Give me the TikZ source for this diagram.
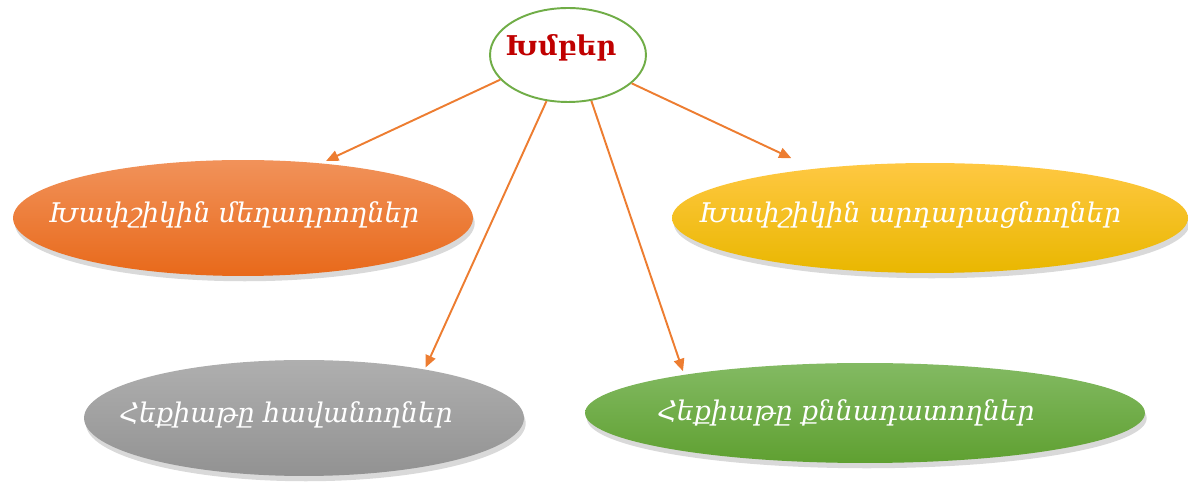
\documentclass[tikz,border=0pt]{standalone}
\usepackage{fontspec}
\setmainfont{DejaVu Serif}
\usepackage{xcolor}
\usetikzlibrary{arrows.meta,shapes.geometric,shadows}
\definecolor{arrowc}{HTML}{ED7D31}
\definecolor{rimc}{HTML}{70AD47}
\definecolor{titlec}{HTML}{C00000}

\begin{document}
\begin{tikzpicture}[x=0.02cm,y=-0.02cm,>={Triangle[length=7pt,width=6pt]},
    group/.style={ellipse,inner sep=0pt,
      drop shadow={opacity=0.3,shadow xshift=1pt,shadow yshift=-3pt}},
    grouptext/.style={text=white,font=\fontsize{15.4}{18}\selectfont\itshape},
    link/.style={->,arrowc,line width=1.1pt}]
  \useasboundingbox (0,0) rectangle (1188,482);

  % the title
  \node[ellipse,draw=rimc,line width=1.1pt,fill=white,inner sep=0pt,
        minimum width=3.12cm,minimum height=1.88cm] (groups) at (568,55) {};
  \node[text=titlec,font=\fontsize{15.5}{18}\selectfont\bfseries] (title) at (561,48) {Խմբեր};

  % the four groups
  \node[group,minimum width=9.2cm,minimum height=2.32cm,
        top color={rgb,255:red,241;green,146;blue,90},
        bottom color={rgb,255:red,232;green,105;blue,26}] (blame) at (243,218) {};
  \node[grouptext] (blametext) at (234,215) {Խափշիկին մեղադրողներ};

  \node[group,minimum width=10.32cm,minimum height=2.2cm,
        top color={rgb,255:red,255;green,200;blue,66},
        bottom color={rgb,255:red,233;green,183;blue,0}] (justify) at (930,218) {};
  \node[grouptext] (justifytext) at (910,215) {Խափշիկին արդարացնողներ};

  \node[group,minimum width=8.8cm,minimum height=2.32cm,
        top color={rgb,255:red,175;green,175;blue,175},
        bottom color={rgb,255:red,146;green,146;blue,146}] (like) at (304,418) {};
  \node[grouptext] (liketext) at (286,415) {Հեքիաթը հավանողներ};

  \node[group,minimum width=11.2cm,minimum height=2cm,
        top color={rgb,255:red,131;green,186;blue,99},
        bottom color={rgb,255:red,95;green,160;blue,49}] (criticize) at (865,413) {};
  \node[grouptext] (criticizetext) at (846,413) {Հեքիաթը քննադատողներ};

  \draw[link,shorten >=3pt] (groups.200) -- (blame.35);
  \draw[link,shorten >=1pt] (groups.245) -- (like.22);
  \draw[link,shorten >=2pt] (groups.297) -- (criticize.168);
  \draw[link,shorten >=14pt] (groups.336) -- (justify.157);
\end{tikzpicture}
\end{document}
